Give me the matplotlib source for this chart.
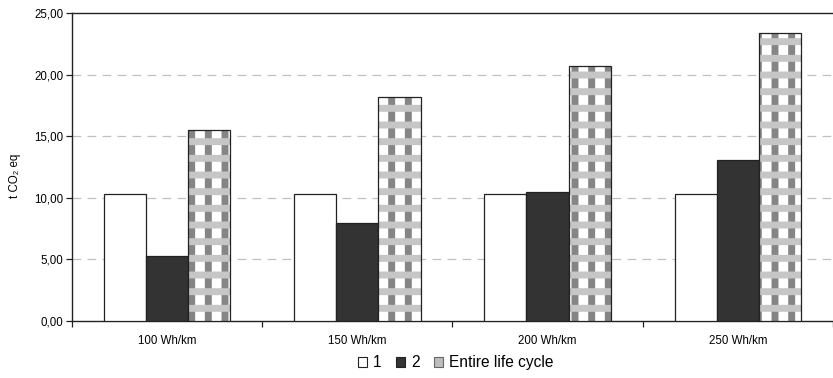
import numpy as np
import matplotlib
matplotlib.use("Agg")
import matplotlib.pyplot as plt
from matplotlib.patches import Patch
from matplotlib.ticker import FixedLocator, FuncFormatter

plt.rcParams['font.family'] = ['Liberation Sans', 'DejaVu Sans']
plt.rcParams['font.size'] = 8.3
plt.rcParams['hatch.linewidth'] = 5.0

categories = ["100 Wh/km", "150 Wh/km", "200 Wh/km", "250 Wh/km"]
phase_1 = [10.3, 10.3, 10.3, 10.3]
phase_2 = [5.25, 7.95, 10.45, 13.1]
entire_life_cycle = [15.5, 18.2, 20.7, 23.4]

fig = plt.figure(figsize=(8.33, 3.78), dpi=100)
ax = fig.add_axes([0.0864, 0.1508, 0.9136, 0.8148])

x = np.arange(len(categories)) + 0.5
w = 0.222

ax.bar(x - w, phase_1, w, color="white", edgecolor="#222222", linewidth=0.9, zorder=3)
ax.bar(x, phase_2, w, color="#333333", edgecolor="#222222", linewidth=0.9, zorder=3)
# checked fill: grey vertical stripes crossed by light dotted bands
ax.bar(x + w, entire_life_cycle, w, color="white", edgecolor="#858585", hatch="|",
       linewidth=0, zorder=3)
ax.bar(x + w, entire_life_cycle, w, color="none", edgecolor="#c6c6c6", hatch="-",
       linewidth=0, zorder=4)
ax.bar(x + w, entire_life_cycle, w, color="none", edgecolor="#222222", linewidth=0.9, zorder=5)

ax.set_xlim(0, 4)
ax.set_ylim(0, 25)
ax.yaxis.set_major_locator(FixedLocator([0, 5, 10, 15, 20, 25]))
ax.yaxis.set_major_formatter(FuncFormatter(lambda v, p: f"{v:.2f}".replace(".", ",")))
ax.set_xticks(x)
ax.set_xticklabels(categories)
ax.xaxis.set_minor_locator(FixedLocator([0, 1, 2, 3, 4]))
ax.tick_params(axis="x", which="major", length=0, pad=10)
ax.tick_params(axis="x", which="minor", length=4, width=0.9, color="#222222")
ax.tick_params(axis="y", length=4, width=0.9, color="#222222", pad=2)

for v in [5, 10, 15, 20]:
    ax.axhline(v, color="#c0c0c0", linewidth=0.9, dashes=(7, 5), zorder=1)

for side in ["left", "bottom", "top"]:
    ax.spines[side].set_color("#222222")
    ax.spines[side].set_linewidth(1.0)
ax.spines["right"].set_visible(False)

ax.set_ylabel("t CO₂ eq")
ax.yaxis.set_label_coords(-0.067, 0.47)

handles = [
    Patch(facecolor="white", edgecolor="#222222", linewidth=0.8, label="1"),
    Patch(facecolor="#333333", edgecolor="#222222", linewidth=0.8, label="2"),
    Patch(facecolor="#bdbdbd", edgecolor="#666666", linewidth=0.8, label="Entire life cycle"),
]
fig.legend(handles=handles, loc="center", bbox_to_anchor=(0.547, 0.04), ncol=3, frameon=False,
           handlelength=0.6, handleheight=0.6, handletextpad=0.4, columnspacing=0.9, fontsize=11.2)

fig.savefig("out.png", dpi=100)
